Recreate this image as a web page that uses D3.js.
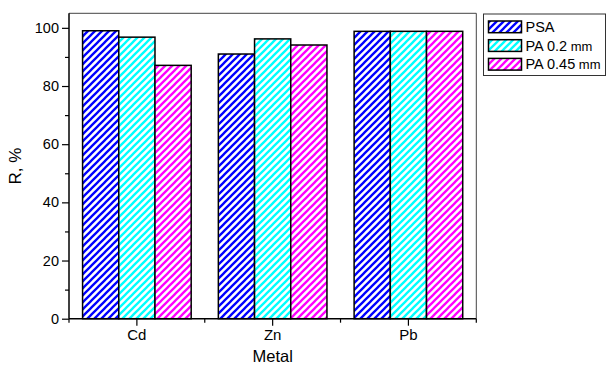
<!DOCTYPE html>
<html><head><meta charset="utf-8">
<script src="https://cdn.jsdelivr.net/npm/d3@7"></script>
<style>body{margin:0;background:#fff}svg{display:block;font-family:"Liberation Sans",Arial,sans-serif}</style>
</head><body><svg id="c" width="608" height="366"></svg>
<script>
const categories = ["Cd", "Zn", "Pb"];
const seriesNames = ["PSA", "PA 0.2", "PA 0.45"];
const seriesUnits = ["", " mm", " mm"];
const psa = [99.0, 91.0, 98.8];
const pa02 = [96.8, 96.2, 98.8];
const pa045 = [87.1, 94.1, 98.8];
const yTicks = [0, 20, 40, 60, 80, 100];
const colors = ["#0000FF", "#00FFFF", "#FF00FF"];
const seriesValues = [psa, pa02, pa045];

const svg = d3.select("#c");
const L = 69, R = 476.3, T = 13.3, B = 318.7;
const FF = "'Liberation Sans', Arial, sans-serif";

const defs = svg.append("defs");
colors.forEach((c, i) => {
  const p = defs.append("pattern").attr("id", "h" + i)
    .attr("patternUnits", "userSpaceOnUse").attr("width", 7).attr("height", 7);
  p.append("rect").attr("width", 7).attr("height", 7).attr("fill", "#fff");
  p.append("path").attr("d", "M-1,1 l2,-2 M0,7 l7,-7 M6,8 l2,-2")
    .attr("stroke", c).attr("stroke-width", 2.3).attr("stroke-linecap", "square");
});

const x0 = d3.scaleBand().domain(categories).range([L, R]).paddingInner(0.2).paddingOuter(0.1);
const x1 = d3.scaleBand().domain(d3.range(seriesNames.length)).range([0, x0.bandwidth()]);
const y = d3.scaleLinear().domain([0, 105]).range([B, T]);

// frame top/right
svg.append("path").attr("d", `M${L},${T}H${R}V${B}`).attr("fill", "none").attr("stroke", "#444").attr("stroke-width", 1);

// bars
categories.forEach((cat, ci) => {
  seriesValues.forEach((vals, si) => {
    svg.append("rect")
      .attr("x", x0(cat) + x1(si))
      .attr("y", y(vals[ci]))
      .attr("width", x1.bandwidth())
      .attr("height", y(0) - y(vals[ci]))
      .attr("fill", `url(#h${si})`)
      .attr("stroke", "#000").attr("stroke-width", 1.5);
  });
});

// y axis
const yAxis = svg.append("g").attr("transform", `translate(${L},0)`)
  .call(d3.axisLeft(y).tickValues(yTicks).tickSize(7).tickPadding(3));
yAxis.selectAll("text").attr("font-size", 14.5).attr("fill", "#000").attr("font-family", FF);
yAxis.select(".domain").attr("d", `M0,${T}V${B}`).attr("stroke", "#000").attr("stroke-width", 1.5);
yAxis.selectAll(".tick line").attr("stroke", "#000").attr("stroke-width", 1.2);
svg.append("g").attr("transform", `translate(${L},0)`)
  .call(d3.axisLeft(y).tickValues([10, 30, 50, 70, 90]).tickSize(4).tickFormat(""))
  .call(g => g.select(".domain").remove())
  .selectAll("line").attr("stroke", "#000").attr("stroke-width", 1.2);

// x axis
const xAxis = svg.append("g").attr("transform", `translate(0,${B})`)
  .call(d3.axisBottom(x0).tickSize(7).tickPadding(4).tickSizeOuter(0));
xAxis.selectAll("text").attr("font-size", 15).attr("fill", "#000").attr("font-family", FF);
xAxis.select(".domain").attr("d", `M${L},0H${R}`).attr("stroke", "#000").attr("stroke-width", 1.5);
xAxis.selectAll(".tick line").attr("stroke", "#000").attr("stroke-width", 1.2);
const minorX = [L, ...categories.slice(1).map(c => x0(c) - x0.step() * x0.paddingInner() / 2), R];
svg.append("g").selectAll("line").data(minorX).join("line")
  .attr("x1", d => d).attr("x2", d => d).attr("y1", B).attr("y2", B + 4)
  .attr("stroke", "#000").attr("stroke-width", 1.2);

// axis titles
svg.append("text").attr("x", (L + R) / 2).attr("y", 362).attr("text-anchor", "middle")
  .attr("font-size", 16.5).text("Metal");
svg.append("text").attr("transform", `translate(21,${(T + B) / 2}) rotate(-90)`)
  .attr("text-anchor", "middle").attr("font-size", 17).text("R, %");

// legend
const lg = svg.append("g");
lg.append("rect").attr("x", 483.5).attr("y", 14).attr("width", 122).attr("height", 61.5)
  .attr("fill", "#fff").attr("stroke", "#333").attr("stroke-width", 1);
seriesNames.forEach((n, i) => {
  const yy = 21 + i * 18.7;
  lg.append("rect").attr("x", 488.5).attr("y", yy).attr("width", 33).attr("height", 11.7)
    .attr("fill", `url(#h${i})`).attr("stroke", "#000").attr("stroke-width", 1.5);
  const t = lg.append("text").attr("x", 525.5).attr("y", yy + 11).attr("font-size", 14.5);
  t.append("tspan").text(n);
  if (seriesUnits[i]) t.append("tspan").attr("font-size", 13).text(seriesUnits[i]);
});
</script></body></html>
